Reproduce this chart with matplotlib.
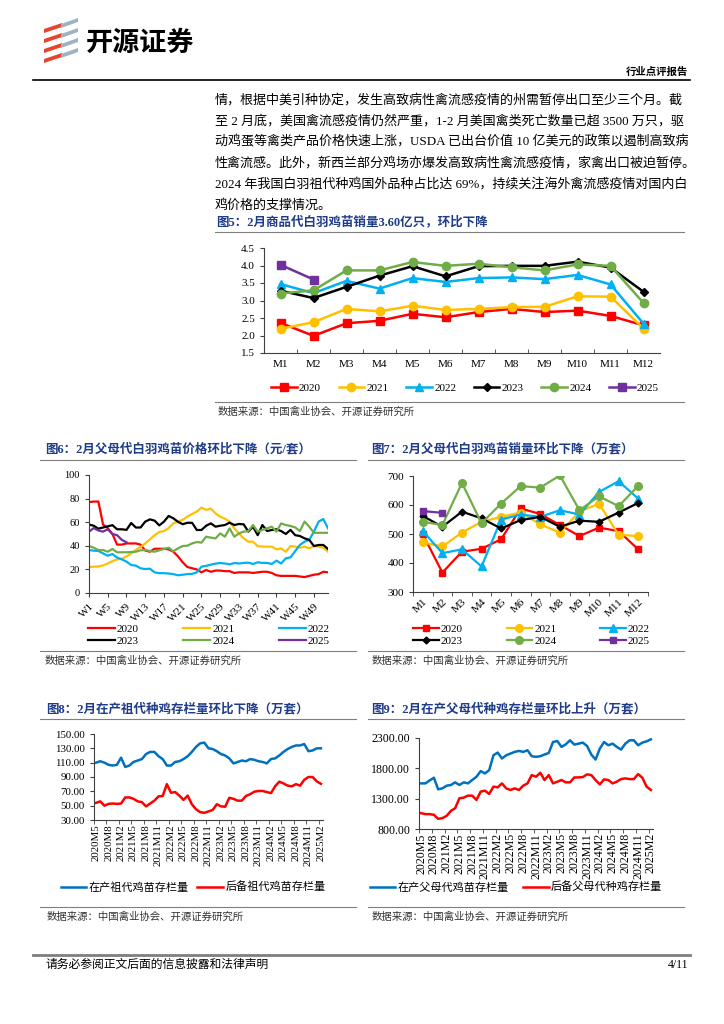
import matplotlib
matplotlib.use("Agg")
import matplotlib.pyplot as plt
from matplotlib.lines import Line2D
from matplotlib.patches import Polygon
import numpy as np

plt.rcParams['font.family'] = ['Liberation Serif', 'Noto Sans CJK SC', 'DejaVu Sans']
plt.rcParams['axes.unicode_minus'] = False

W, H = 724, 1024
CJK = ['Liberation Serif', 'Noto Sans CJK SC']
NAVY = '#1F3C88'

# ---- data ----
months = ["M1", "M2", "M3", "M4", "M5", "M6", "M7", "M8", "M9", "M10", "M11", "M12"]
years = ["2020", "2021", "2022", "2023", "2024", "2025"]

# fig5: commodity chick sales (100 million)
f5_2020 = [2.36, 1.99, 2.35, 2.42, 2.62, 2.52, 2.67, 2.76, 2.67, 2.71, 2.56, 2.29]
f5_2021 = [2.19, 2.38, 2.76, 2.69, 2.85, 2.73, 2.76, 2.81, 2.82, 3.12, 3.11, 2.20]
f5_2022 = [3.47, 3.21, 3.56, 3.34, 3.64, 3.53, 3.64, 3.66, 3.61, 3.73, 3.46, 2.34]
f5_2023 = [3.28, 3.07, 3.39, 3.71, 3.98, 3.69, 3.98, 3.99, 3.99, 4.11, 3.94, 3.25]
f5_2024 = [3.20, 3.29, 3.86, 3.86, 4.10, 3.99, 4.05, 3.95, 3.86, 4.03, 3.99, 2.93]
f5_2025 = [4.02, 3.60]

# fig6: parent chick price by week (yuan/set)
f6_2020 = [77, 77.5, 77.5, 58, 55, 50, 41, 41, 42, 42, 42, 41, 36, 35, 37.5, 37.5, 37.5, 37, 35, 31,
           26, 22, 21, 20, 17.5, 19.5, 18, 19, 19, 18.5, 18.5, 17, 17.5, 17.5, 17.5, 17, 17.5, 18, 18, 17,
           15, 14.5, 14.5, 14.5, 14.5, 14, 13.5, 14.5, 15.5, 16, 18, 17.5]
f6_2021 = [22, 22.3, 22.5, 23.4, 25, 27, 28.5, 29, 31, 33.6, 36.4, 39, 42, 45.5, 49, 51.7, 52.5, 55, 59, 60.5,
           62, 64.7, 67, 69, 72.3, 70.5, 71.5, 67.5, 64.7, 63, 60.5, 54.8, 50.5, 46.3, 43.5, 43.5, 39.8, 39.3, 39.3, 39.3,
           37, 37.8, 35, 39.8, 39.3, 38.4, 39.3, 37.8, 39.8, 39.3, 38.4, 35]
f6_2022 = [36.4, 35.9, 35.6, 33.6, 31.6, 33, 30, 28.5, 26.6, 23.7, 23.2, 20.9, 20.3, 20.6, 17.5, 16.8, 16.8, 16.5, 16, 15,
           15.5, 16, 16.2, 17.5, 22.3, 23, 24, 24.9, 25.4, 25, 24.3, 25.4, 25, 25.5, 25.7, 24.6, 26, 25.5, 25.5, 24.6,
           27.4, 25, 29.4, 30.2, 35.5, 40.7, 43.5, 45, 52, 60.5, 62.7, 54.8]
f6_2023 = [58, 57, 54.5, 55.5, 56.5, 57.5, 54, 54, 53.5, 59.3, 55.5, 55.5, 60.5, 62.4, 61.3, 57.3, 60.5, 65.3, 63.3, 60.3,
           58.3, 59.5, 59.5, 53.4, 53.4, 57, 59, 56.2, 57, 57.6, 59.6, 57.6, 58.5, 58.2, 52, 56.2, 49, 57.6, 52.5, 53.4,
           54, 52.5, 50, 53.5, 49, 48.3, 46.3, 45, 39.8, 40.7, 40.7, 37.3]
f6_2024 = [39.8, 38.4, 36.4, 36.4, 35, 37.3, 34.5, 34.5, 34.5, 34.7, 35, 36.2, 36.4, 35.6, 35, 36.2, 37.3, 38.4, 35.3, 37.9,
           39.8, 40.1, 42, 43.2, 42.7, 47.7, 46.9, 46.3, 50.5, 47.7, 54.8, 47.7, 50.5, 52, 52.5, 57.6, 52, 53.4, 54.8, 56.2,
           52, 59, 57.6, 56.8, 55.6, 52.5, 60.5, 56.2, 51, 51, 51, 51]
f6_2025 = [52, 55, 53, 52, 54, 50, 49, 45, 43]
week_labels = ["W1", "W5", "W9", "W13", "W17", "W21", "W25", "W29", "W33", "W37", "W41", "W45", "W49"]

# fig7: parent chick sales (10k sets)
f7_2020 = [499, 367, 439, 449, 482, 588, 569, 531, 493, 522, 510, 447]
f7_2021 = [471, 457, 505, 542, 559, 574, 533, 505, 577, 605, 497, 493]
f7_2022 = [510, 434, 447, 388, 550, 567, 559, 582, 567, 645, 682, 622]
f7_2023 = [562, 525, 577, 554, 519, 548, 559, 525, 546, 542, 574, 607]
f7_2024 = [542, 531, 676, 537, 605, 665, 660, 702, 582, 630, 596, 666]
f7_2025 = [579, 573]

# fig8 / fig9: stock by month (10k sets)
stock_labels = ["2020M5", "2020M8", "2021M2", "2021M5", "2021M8", "2021M11", "2022M2", "2022M5",
                "2022M8", "2022M11", "2023M2", "2023M5", "2023M8", "2023M11", "2024M2", "2024M5",
                "2024M8", "2024M11", "2025M2"]
gp_laying = [110, 112, 110, 107, 106, 107, 117, 104, 106, 111, 113, 115, 122, 125, 125, 119, 115, 106, 106, 111,
             112, 115, 119, 125, 132, 137, 138, 130, 129, 126, 122, 120, 116, 109, 111, 113, 112, 115, 114, 112,
             111, 109, 115, 116, 120, 125, 129, 132, 134, 134, 136, 126, 127, 130, 130]
gp_reserve = [54, 56, 50, 52.5, 53, 52.5, 53, 61.5, 61.5, 59.5, 56, 55, 49, 53, 57, 63, 63.5, 80, 68, 69,
              64, 58, 64, 52, 45, 41, 40, 42, 44, 52, 49, 48.5, 61, 59.5, 57, 57, 63.5, 66, 69.5, 70.5,
              70.5, 69, 67.5, 77, 83.5, 81, 78, 77, 80, 78, 86, 90, 90, 84, 80.5]
pp_laying = [1552, 1552, 1600, 1645, 1454, 1470, 1514, 1525, 1569, 1525, 1569, 1552, 1607, 1661, 1754, 1716, 1770, 2016, 2060, 1962,
             2016, 2043, 2071, 2087, 2071, 2098, 2000, 1989, 2000, 2027, 2054, 2234, 2251, 2153, 2196, 2262, 2191, 2207, 2224, 2169,
             2027, 1945, 2125, 2234, 2180, 2207, 2153, 2109, 2207, 2262, 2262, 2180, 2224, 2245, 2278]
pp_reserve = [1061, 1045, 1045, 1034, 968, 979, 1017, 1099, 1143, 1307, 1317, 1350, 1350, 1279, 1416, 1432, 1378, 1498, 1487, 1552,
              1470, 1443, 1470, 1443, 1514, 1552, 1689, 1661, 1727, 1607, 1689, 1552, 1580, 1607, 1569, 1569, 1650, 1650, 1656, 1700,
              1689, 1607, 1536, 1618, 1607, 1552, 1580, 1623, 1634, 1623, 1623, 1705, 1645, 1498, 1443]

colors = ['#FF0000', '#FFC000', '#00B0F0', '#000000', '#70AD47', '#7030A0']
markers = ['s', 'o', '^', 'D', 'o', 's']
msizes = [5.5, 6, 6, 4, 6, 5.5]
# legend with 3 columns fills column by column; this order reads row by row
row_order = [0, 3, 1, 4, 2, 5]


def fx(x):
    return x / W


def fy(y):
    return 1 - y / H


def hline(fig, x0, x1, y, color='#7F7F7F', lw=0.8):
    fig.add_artist(Line2D([fx(x0), fx(x1)], [fy(y), fy(y)], transform=fig.transFigure, color=color, lw=lw))


def axes_px(fig, x0, x1, y0, y1):
    return fig.add_axes([fx(x0), fy(y1), (x1 - x0) / W, (y1 - y0) / H])


def style(ax):
    for s in ['top', 'right']:
        ax.spines[s].set_visible(False)
    for s in ['left', 'bottom']:
        ax.spines[s].set_color('#404040')
        ax.spines[s].set_linewidth(0.8)
    ax.tick_params(colors='#404040', labelcolor='black', width=0.8, length=3)


fig = plt.figure(figsize=(W / 100, H / 100), dpi=100)

# ---- header ----
for yc in [33, 43, 53, 63]:
    pts = [(44, yc), (62, yc - 6), (62, yc - 10), (44, yc - 4)]
    fig.add_artist(Polygon([(fx(a), fy(b)) for a, b in pts], closed=True, transform=fig.transFigure,
                           facecolor='#E8432E', edgecolor='none'))
for yc in [28, 38, 48, 58]:
    pts = [(61, yc), (78, yc - 6), (78, yc - 10), (61, yc - 4)]
    fig.add_artist(Polygon([(fx(a), fy(b)) for a, b in pts], closed=True, transform=fig.transFigure,
                           facecolor='#9DB3C2', edgecolor='none'))
fig.text(fx(86), fy(43), "开源证券", family='Noto Sans CJK SC', fontsize=19.5, fontweight='bold', va='center', ha='left')
fig.text(fx(688), fy(72), "行业点评报告", family='Noto Sans CJK SC', fontsize=7.5, fontweight='bold', va='center', ha='right')
hline(fig, 33, 690, 80, color='black', lw=1.2)

para = ["情，根据中美引种协定，发生高致病性禽流感疫情的州需暂停出口至少三个月。截",
        "至 2 月底，美国禽流感疫情仍然严重，1-2 月美国禽类死亡数量已超 3500 万只，驱",
        "动鸡蛋等禽类产品价格快速上涨，USDA 已出台价值 10 亿美元的政策以遏制高致病",
        "性禽流感。此外，新西兰部分鸡场亦爆发高致病性禽流感疫情，家禽出口被迫暂停。",
        "2024 年我国白羽祖代种鸡国外品种占比达 69%，持续关注海外禽流感疫情对国内白",
        "鸡价格的支撑情况。"]
for k, line in enumerate(para):
    fig.text(fx(215), fy(100 + 21 * k), line, family=CJK, fontsize=9.4, va='center', ha='left')

src = "数据来源：中国禽业协会、开源证券研究所"

# ---- fig5 ----
fig.text(fx(216), fy(222), "图5：2月商品代白羽鸡苗销量3.60亿只，环比下降", family=CJK, fontsize=9,
         fontweight='bold', color=NAVY, va='center')
hline(fig, 215, 684, 232)
ax5 = axes_px(fig, 264, 660, 248, 353)
style(ax5)
series5 = [f5_2020, f5_2021, f5_2022, f5_2023, f5_2024, f5_2025]
handles = []
for vals, c, m, ms, lab in zip(series5, colors, markers, msizes, years):
    h, = ax5.plot(range(len(vals)), vals, color=c, marker=m, markersize=ms, lw=1.8, label=lab)
    handles.append(h)
ax5.set_xlim(-0.5, 11.5)
ax5.set_ylim(1.5, 4.5)
ax5.set_yticks(np.arange(1.5, 4.51, 0.5))
ax5.set_yticklabels(["%.1f" % v for v in np.arange(1.5, 4.51, 0.5)], fontsize=8)
ax5.set_xticks(range(12))
ax5.set_xticklabels(months, fontsize=8)
ax5.tick_params(axis='x', length=0, pad=5)
ax5.set_xticks(np.arange(0.5, 11, 1), minor=True)
ax5.tick_params(axis='x', which='minor', direction='in', length=3, color='#404040')
fig.legend(handles=handles, loc='center', bbox_to_anchor=(fx(465), fy(388)), ncol=6, frameon=False,
           fontsize=8, handlelength=2.3, handletextpad=0.2, columnspacing=1.6)
hline(fig, 215, 684, 402)
fig.text(fx(218), fy(412), src, family=CJK, fontsize=7.5, color='#333333', va='center')

# ---- fig6 ----
fig.text(fx(45), fy(449), "图6：2月父母代白羽鸡苗价格环比下降（元/套）", family=CJK, fontsize=9,
         fontweight='bold', color=NAVY, va='center')
hline(fig, 40, 356, 460)
ax6 = axes_px(fig, 89, 328, 475, 593)
style(ax6)
series6 = [f6_2020, f6_2021, f6_2022, f6_2023, f6_2024, f6_2025]
handles = []
for vals, c, lab in zip(series6, colors, years):
    h, = ax6.plot(range(len(vals)), vals, color=c, lw=1.6, label=lab)
    handles.append(h)
ax6.set_xlim(0, 51)
ax6.set_ylim(0, 100)
ax6.set_yticks(range(0, 101, 20))
ax6.tick_params(axis='y', labelsize=7.5)
ax6.set_xticks(range(0, 49, 4))
ax6.set_xticklabels(week_labels, fontsize=8, rotation=45, ha='right', va='top', rotation_mode='anchor')
fig.legend(handles=[handles[i] for i in row_order], loc='center', bbox_to_anchor=(fx(88), fy(650), 242 / W, 30 / H),
           mode='expand', ncol=3, frameon=False, fontsize=8, handlelength=2.4, handletextpad=0.2,
           labelspacing=0.2, borderaxespad=0, borderpad=0)
hline(fig, 40, 356, 651)
fig.text(fx(45), fy(661), src, family=CJK, fontsize=7.5, color='#333333', va='center')

# ---- fig7 ----
fig.text(fx(371), fy(449), "图7：2月父母代白羽鸡苗销量环比下降（万套）", family=CJK, fontsize=9,
         fontweight='bold', color=NAVY, va='center')
hline(fig, 368, 684, 460)
ax7 = axes_px(fig, 413, 648, 476, 592)
style(ax7)
series7 = [f7_2020, f7_2021, f7_2022, f7_2023, f7_2024, f7_2025]
handles = []
for vals, c, m, ms, lab in zip(series7, colors, markers, msizes, years):
    h, = ax7.plot(range(len(vals)), vals, color=c, marker=m, markersize=ms - 0.5, lw=1.6, label=lab)
    handles.append(h)
ax7.set_xlim(-0.5, 11.5)
ax7.set_ylim(300, 700)
ax7.set_yticks(range(300, 701, 100))
ax7.tick_params(axis='y', labelsize=8)
ax7.set_xticks(range(12))
ax7.set_xticklabels(months, fontsize=8, rotation=45, ha='right', va='top', rotation_mode='anchor')
ax7.tick_params(axis='x', length=0, pad=4)
ax7.set_xticks(np.arange(-0.5, 11.6, 1), minor=True)
ax7.tick_params(axis='x', which='minor', length=3, color='#404040')
fig.legend(handles=[handles[i] for i in row_order], loc='center', bbox_to_anchor=(fx(413), fy(650), 237 / W, 30 / H),
           mode='expand', ncol=3, frameon=False, fontsize=8, handlelength=2.3, handletextpad=0.2,
           labelspacing=0.2, borderaxespad=0, borderpad=0)
hline(fig, 368, 684, 651)
fig.text(fx(372), fy(661), src, family=CJK, fontsize=7.5, color='#333333', va='center')


# ---- fig8 / fig9 ----
def stock_chart(ax, a, b, ylim, yticks, fs):
    style(ax)
    x = range(len(a))
    h1, = ax.plot(x, a, color='#0070C0', lw=1.8)
    h2, = ax.plot(x, b, color='#FF0000', lw=1.8)
    ax.set_xlim(-0.5, len(a) - 0.5)
    ax.set_ylim(*ylim)
    ax.set_yticks(yticks)
    ax.set_yticklabels(["%.2f" % v for v in yticks], fontsize=fs)
    ax.set_xticks(range(0, len(a), 3))
    ax.set_xticklabels(stock_labels, fontsize=fs, rotation=90, ha='center', va='top')
    ax.tick_params(axis='x', length=0, pad=3)
    ax.set_xticks(np.arange(-0.5, len(a), 3), minor=True)
    ax.tick_params(axis='x', which='minor', length=3, color='#404040')
    return h1, h2


fig.text(fx(46), fy(709), "图8：2月在产祖代种鸡存栏量环比下降（万套）", family=CJK, fontsize=9,
         fontweight='bold', color=NAVY, va='center')
hline(fig, 40, 356, 719)
ax8 = axes_px(fig, 94, 323, 734, 820)
h1, h2 = stock_chart(ax8, gp_laying, gp_reserve, (30, 150), list(range(30, 151, 20)), 7.8)
fig.legend([h1, h2], ["在产祖代鸡苗存栏量", "后备祖代鸡苗存栏量"], loc='center', bbox_to_anchor=(fx(193), fy(887)),
           ncol=2, frameon=False, prop={'family': CJK, 'size': 8}, handlelength=2.3, handletextpad=0.2,
           columnspacing=0.8)
hline(fig, 40, 356, 907)
fig.text(fx(47), fy(917), src, family=CJK, fontsize=7.5, color='#333333', va='center')

fig.text(fx(371), fy(709), "图9：2月在产父母代种鸡存栏量环比上升（万套）", family=CJK, fontsize=9,
         fontweight='bold', color=NAVY, va='center')
hline(fig, 368, 684, 719)
ax9 = axes_px(fig, 419, 653, 738, 829)
h1, h2 = stock_chart(ax9, pp_laying, pp_reserve, (800, 2300), [800, 1300, 1800, 2300], 8.6)
fig.legend([h1, h2], ["在产父母代鸡苗存栏量", "后备父母代种鸡存栏量"], loc='center', bbox_to_anchor=(fx(516), fy(887)),
           ncol=2, frameon=False, prop={'family': CJK, 'size': 8}, handlelength=2.3, handletextpad=0.2,
           columnspacing=1.3)
hline(fig, 368, 684, 907)
fig.text(fx(372), fy(917), src, family=CJK, fontsize=7.5, color='#333333', va='center')

# ---- footer ----
hline(fig, 33, 690, 955, color='#7F7F7F', lw=2)
fig.text(fx(45), fy(965), "请务必参阅正文后面的信息披露和法律声明", family=CJK, fontsize=8.5, va='center')
fig.text(fx(688), fy(965), "4/11", family=CJK, fontsize=8.5, va='center', ha='right')

fig.savefig("out.png", dpi=100)
